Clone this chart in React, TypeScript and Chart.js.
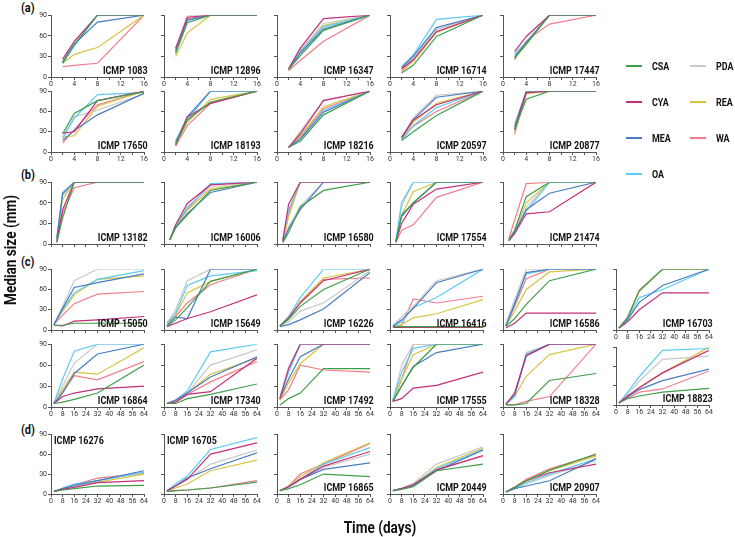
import React, { useEffect, useRef } from "react";
import { Chart, registerables } from "chart.js";

Chart.register(...registerables);

// ---- data ----------------------------------------------------------------
// Culture media, in the order every value matrix below uses.
const MEDIA = ["CSA", "CYA", "MEA", "OA", "PDA", "REA", "WA"];
const MEDIA_COLORS = ["#3f9e4a", "#c2307a", "#4a7cc0", "#5ccbf2", "#c9c9c9", "#d8c443", "#f27c8c"];

// Sampling days per group.
const DAYS_A = [2, 4, 8, 16];
const DAYS_B = [1, 2, 4, 8, 16];
const DAYS_CD = [2, 8, 16, 32, 64];

const SIZE_TICKS = [0, 15, 30, 45, 60, 75, 90];

// Median colony size (mm); one row per medium (CSA, CYA, MEA, OA, PDA, REA, WA).
const icmp1083 = [[20, 47, 90, 90], [26, 52, 90, 90], [22, 48, 80, 90], [20, 45, 90, 90], [22, 50, 90, 90], [20, 33, 43, 90], [15, 17, 20, 90]];
const icmp12896 = [[34, 79, 90, 90], [42, 87, 90, 90], [38, 83, 90, 90], [36, 82, 90, 90], [38, 89, 90, 90], [30, 64, 90, 90], [40, 85, 90, 90]];
const icmp16347 = [[11, 31, 68, 90], [12, 42, 85, 90], [11, 35, 70, 90], [12, 37, 73, 90], [12, 39, 78, 90], [11, 38, 75, 90], [9, 24, 52, 90]];
const icmp16714 = [[6, 17, 59, 90], [12, 25, 66, 90], [14, 30, 72, 90], [15, 32, 84, 90], [13, 28, 69, 90], [10, 23, 65, 90], [8, 24, 66, 90]];
const icmp17447 = [[28, 48, 90, 90], [37, 59, 90, 90], [29, 50, 90, 90], [32, 50, 90, 90], [34, 52, 90, 90], [27, 47, 90, 90], [25, 53, 77, 90]];

const icmp17650 = [[27, 57, 76, 89], [28, 30, 76, 90], [17, 32, 55, 87], [20, 50, 85, 88], [22, 52, 62, 86], [22, 24, 68, 90], [13, 33, 70, 90]];
const icmp18193 = [[12, 47, 74, 90], [10, 52, 72, 90], [14, 52, 90, 90], [17, 47, 90, 90], [15, 50, 90, 90], [11, 44, 78, 90], [9, 39, 72, 90]];
const icmp18216 = [[7, 16, 55, 90], [7, 27, 76, 90], [7, 19, 59, 90], [7, 20, 61, 90], [7, 30, 77, 90], [7, 24, 67, 90], [7, 22, 64, 90]];
const icmp20597 = [[17, 30, 54, 90], [22, 47, 70, 90], [21, 48, 81, 90], [18, 39, 66, 90], [21, 51, 84, 90], [20, 44, 72, 90], [20, 38, 60, 90]];
const icmp20877 = [[35, 78, 90, 90], [33, 88, 90, 90], [38, 90, 90, 90], [31, 89, 90, 90], [42, 90, 90, 90], [28, 86, 90, 90], [26, 87, 90, 90]];

const icmp13182 = [[2, 38, 90, 90, 90], [4, 50, 90, 90, 90], [8, 73, 90, 90, 90], [10, 75, 90, 90, 90], [6, 70, 90, 90, 90], [5, 65, 90, 90, 90], [3, 45, 82, 90, 90]];
const icmp16006 = [[6, 24, 42, 78, 90], [6, 28, 59, 86, 90], [6, 24, 44, 75, 90], [6, 27, 52, 88, 90], [6, 27, 54, 83, 90], [6, 25, 49, 80, 90], [6, 26, 50, 87, 90]];
const icmp16580 = [[2, 17, 54, 78, 90], [5, 58, 90, 90, 90], [4, 22, 50, 90, 90], [8, 50, 90, 90, 90], [5, 25, 55, 90, 90], [3, 40, 90, 90, 90], [4, 45, 90, 90, 90]];
const icmp17554 = [[3, 42, 60, 90, 90], [3, 30, 58, 80, 90], [3, 40, 60, 90, 90], [5, 60, 90, 90, 90], [4, 55, 90, 90, 90], [4, 42, 76, 90, 90], [2, 20, 28, 68, 90]];
const icmp21474 = [[6, 20, 69, 90, 90], [5, 15, 44, 47, 90], [5, 17, 50, 74, 90], [6, 18, 48, 90, 90], [5, 16, 53, 90, 90], [5, 19, 60, 90, 90], [8, 35, 88, 90, 90]];

const icmp15050 = [[7, 7, 10, 10, 10], [7, 6, 13, 15, 20], [8, 32, 63, 70, 83], [8, 30, 55, 75, 88], [8, 35, 73, 90, 90], [8, 28, 52, 75, 80], [8, 22, 39, 53, 57]];
const icmp15649 = [[5, 15, 33, 72, 90], [5, 10, 17, 27, 52], [6, 19, 17, 90, 90], [10, 25, 66, 80, 88], [10, 30, 73, 90, 90], [8, 22, 55, 72, 90], [7, 20, 40, 67, 90]];
const icmp16226 = [[6, 16, 35, 60, 90], [6, 18, 40, 73, 90], [5, 8, 15, 31, 85], [6, 20, 48, 90, 90], [6, 12, 28, 40, 88], [6, 18, 42, 77, 90], [6, 17, 42, 75, 77]];
const icmp16416 = [[5, 5, 5, 5, 5], [4, 4, 4, 4, 4], [6, 15, 32, 70, 90], [5, 12, 33, 48, 90], [6, 20, 35, 73, 90], [4, 8, 18, 24, 45], [4, 7, 46, 40, 50]];
const icmp16586 = [[5, 17, 38, 73, 90], [3, 10, 25, 25, 25], [6, 38, 85, 90, 90], [7, 40, 83, 90, 90], [10, 45, 90, 90, 90], [6, 28, 60, 86, 90], [6, 35, 76, 90, 90]];
const icmp16703 = [[3, 18, 58, 90, 90], [3, 12, 30, 55, 55], [3, 15, 41, 66, 90], [3, 16, 48, 60, 90], [3, 20, 58, 90, 90], [3, 17, 57, 90, 90], [3, 19, 59, 90, 90]];

const icmp16864 = [[5, 7, 11, 20, 60], [5, 15, 20, 26, 30], [5, 20, 48, 76, 90], [5, 40, 80, 90, 90], [5, 30, 63, 90, 90], [5, 25, 50, 47, 85], [5, 22, 45, 39, 65]];
const icmp17340 = [[5, 5, 12, 18, 33], [5, 7, 18, 22, 70], [5, 10, 20, 43, 72], [5, 10, 23, 79, 90], [5, 9, 20, 60, 82], [5, 9, 20, 47, 70], [5, 8, 18, 36, 65]];
const icmp17492 = [[3, 12, 20, 55, 55], [12, 55, 90, 90, 90], [12, 40, 72, 90, 90], [12, 50, 90, 90, 90], [15, 58, 90, 90, 90], [10, 35, 62, 90, 90], [10, 25, 60, 53, 50]];
const icmp17555 = [[8, 30, 57, 90, 90], [8, 12, 27, 31, 50], [8, 30, 58, 78, 90], [10, 50, 84, 90, 90], [10, 60, 90, 90, 90], [8, 40, 75, 90, 90], [8, 40, 90, 90, 90]];
const icmp18328 = [[3, 3, 5, 38, 48], [4, 20, 74, 90, 90], [4, 18, 73, 90, 90], [4, 15, 76, 90, 90], [4, 15, 78, 90, 90], [4, 15, 44, 75, 90], [3, 3, 8, 15, 90]];
const icmp18823 = [[3, 10, 14, 20, 26], [3, 14, 27, 50, 85], [3, 13, 24, 38, 56], [3, 20, 44, 85, 88], [3, 17, 37, 71, 76], [3, 14, 27, 50, 90], [3, 11, 20, 25, 53]];

const icmp16276 = [[4, 6, 8, 12, 13], [4, 7, 10, 17, 20], [4, 8, 13, 20, 35], [4, 9, 15, 20, 33], [4, 7, 11, 20, 32], [4, 7, 11, 18, 30], [4, 7, 14, 24, 31]];
const icmp16705 = [[4, 5, 6, 9, 18], [5, 12, 22, 60, 77], [5, 12, 24, 38, 62], [5, 15, 27, 67, 85], [5, 12, 22, 45, 66], [4, 9, 15, 35, 51], [4, 5, 6, 9, 20]];
const icmp16865 = [[5, 8, 14, 30, 26], [5, 11, 22, 42, 64], [5, 11, 22, 37, 47], [5, 11, 22, 45, 70], [5, 11, 22, 40, 60], [5, 12, 26, 47, 77], [5, 12, 30, 45, 76]];
const icmp20449 = [[5, 7, 11, 35, 45], [5, 8, 14, 36, 58], [5, 8, 13, 35, 66], [5, 8, 14, 38, 67], [5, 9, 16, 45, 71], [5, 8, 14, 40, 69], [5, 8, 14, 37, 57]];
const icmp20907 = [[3, 10, 20, 36, 60], [3, 10, 20, 32, 45], [3, 8, 12, 20, 53], [3, 9, 17, 30, 53], [3, 8, 15, 28, 50], [3, 10, 19, 35, 57], [3, 10, 22, 38, 59]];

// ---- layout ----------------------------------------------------------------
const FONT = "Roboto, 'Liberation Sans', 'DejaVu Sans', sans-serif";
const SQUEEZE = 0.85; // horizontal squeeze giving the narrow lettering
const AXIS_COLOR = "#555";
const COL_X = [51, 164, 277, 390, 503, 616];
const PLOT_W = 93;
// plot top (value 90) and height for each row of panels
const ROWS = {
  a1: { top: 15, h: 62 },
  a2: { top: 91, h: 61 },
  b: { top: 182, h: 62 },
  c1: { top: 269, h: 61 },
  c2: { top: 344, h: 63 },
  d: { top: 434, h: 60 },
};
const ML = 28;
const MR = 7;
const MT = 5;
const MB = 14;

type PanelSpec = {
  name: string;
  values: number[][];
  days: number[];
  row: keyof typeof ROWS;
  col: number;
  xLabels: boolean;
  label?: "br" | "tl";
  top?: number;
  h?: number;
};

const PANELS: PanelSpec[] = [
  { name: "ICMP 1083", values: icmp1083, days: DAYS_A, row: "a1", col: 0, xLabels: true },
  { name: "ICMP 12896", values: icmp12896, days: DAYS_A, row: "a1", col: 1, xLabels: true },
  { name: "ICMP 16347", values: icmp16347, days: DAYS_A, row: "a1", col: 2, xLabels: true },
  { name: "ICMP 16714", values: icmp16714, days: DAYS_A, row: "a1", col: 3, xLabels: true },
  { name: "ICMP 17447", values: icmp17447, days: DAYS_A, row: "a1", col: 4, xLabels: true },
  { name: "ICMP 17650", values: icmp17650, days: DAYS_A, row: "a2", col: 0, xLabels: true },
  { name: "ICMP 18193", values: icmp18193, days: DAYS_A, row: "a2", col: 1, xLabels: true },
  { name: "ICMP 18216", values: icmp18216, days: DAYS_A, row: "a2", col: 2, xLabels: true },
  { name: "ICMP 20597", values: icmp20597, days: DAYS_A, row: "a2", col: 3, xLabels: true },
  { name: "ICMP 20877", values: icmp20877, days: DAYS_A, row: "a2", col: 4, xLabels: true },
  { name: "ICMP 13182", values: icmp13182, days: DAYS_B, row: "b", col: 0, xLabels: false },
  { name: "ICMP 16006", values: icmp16006, days: DAYS_B, row: "b", col: 1, xLabels: false },
  { name: "ICMP 16580", values: icmp16580, days: DAYS_B, row: "b", col: 2, xLabels: false },
  { name: "ICMP 17554", values: icmp17554, days: DAYS_B, row: "b", col: 3, xLabels: false },
  { name: "ICMP 21474", values: icmp21474, days: DAYS_B, row: "b", col: 4, xLabels: false },
  { name: "ICMP 15050", values: icmp15050, days: DAYS_CD, row: "c1", col: 0, xLabels: false },
  { name: "ICMP 15649", values: icmp15649, days: DAYS_CD, row: "c1", col: 1, xLabels: false },
  { name: "ICMP 16226", values: icmp16226, days: DAYS_CD, row: "c1", col: 2, xLabels: false },
  { name: "ICMP 16416", values: icmp16416, days: DAYS_CD, row: "c1", col: 3, xLabels: false },
  { name: "ICMP 16586", values: icmp16586, days: DAYS_CD, row: "c1", col: 4, xLabels: false },
  { name: "ICMP 16703", values: icmp16703, days: DAYS_CD, row: "c1", col: 5, xLabels: true },
  { name: "ICMP 16864", values: icmp16864, days: DAYS_CD, row: "c2", col: 0, xLabels: true },
  { name: "ICMP 17340", values: icmp17340, days: DAYS_CD, row: "c2", col: 1, xLabels: true },
  { name: "ICMP 17492", values: icmp17492, days: DAYS_CD, row: "c2", col: 2, xLabels: true },
  { name: "ICMP 17555", values: icmp17555, days: DAYS_CD, row: "c2", col: 3, xLabels: true },
  { name: "ICMP 18328", values: icmp18328, days: DAYS_CD, row: "c2", col: 4, xLabels: true },
  { name: "ICMP 18823", values: icmp18823, days: DAYS_CD, row: "c2", col: 5, xLabels: true, top: 347, h: 58 },
  { name: "ICMP 16276", values: icmp16276, days: DAYS_CD, row: "d", col: 0, xLabels: true, label: "tl" },
  { name: "ICMP 16705", values: icmp16705, days: DAYS_CD, row: "d", col: 1, xLabels: true, label: "tl" },
  { name: "ICMP 16865", values: icmp16865, days: DAYS_CD, row: "d", col: 2, xLabels: true },
  { name: "ICMP 20449", values: icmp20449, days: DAYS_CD, row: "d", col: 3, xLabels: true },
  { name: "ICMP 20907", values: icmp20907, days: DAYS_CD, row: "d", col: 4, xLabels: true },
];

const GROUP_LABELS = [
  { text: "(a)", x: 21, y: 0 },
  { text: "(b)", x: 21, y: 167 },
  { text: "(c)", x: 21, y: 254 },
  { text: "(d)", x: 21, y: 422 },
];

function Narrow({ children, origin }: { children: React.ReactNode; origin: string }) {
  return (
    <span style={{ display: "inline-block", transform: `scaleX(${SQUEEZE})`, transformOrigin: origin }}>{children}</span>
  );
}

function Panel({ spec }: { spec: PanelSpec }) {
  const ref = useRef<HTMLCanvasElement>(null);
  const rowBox = ROWS[spec.row];
  const top = spec.top ?? rowBox.top;
  const h = spec.h ?? rowBox.h;
  const left = COL_X[spec.col];
  const width = PLOT_W + ML + MR;
  const height = h + MT + MB;
  const long = spec.days[spec.days.length - 1] > 16;
  const showY = spec.col === 0;

  useEffect(() => {
    if (!ref.current) return;
    const tickFont = { family: FONT, size: 7 };
    const chart = new Chart(ref.current, {
      type: "line",
      data: {
        datasets: MEDIA.map((m, i) => ({
          label: m,
          data: spec.days.map((d, j) => ({ x: d, y: spec.values[i][j] })),
          borderColor: MEDIA_COLORS[i],
          backgroundColor: MEDIA_COLORS[i],
          borderWidth: 1.2,
          pointRadius: 0,
          tension: 0,
          fill: false,
        })),
      },
      options: {
        responsive: false,
        animation: false,
        devicePixelRatio: 1,
        layout: { padding: { left: 0, top: MT, right: MR, bottom: 0 } },
        plugins: { legend: { display: false }, tooltip: { enabled: false } },
        scales: {
          x: {
            type: "linear",
            min: 0,
            max: long ? 64 : 16,
            afterFit: (s: any) => {
              s.height = MB;
            },
            border: { display: true, color: AXIS_COLOR, width: 1 },
            grid: { display: true, drawOnChartArea: false, drawTicks: true, tickLength: 3, color: AXIS_COLOR },
            ticks: {
              stepSize: long ? 8 : 2,
              autoSkip: false,
              maxRotation: 0,
              padding: 0,
              font: tickFont,
              color: "#333",
              callback: (v: any) => {
                if (!spec.xLabels) return "";
                if (!long && v % 4 !== 0) return "";
                return String(v);
              },
            },
          },
          y: {
            type: "linear",
            min: 0,
            max: 90,
            afterFit: (s: any) => {
              s.width = ML;
            },
            border: { display: true, color: AXIS_COLOR, width: 1 },
            grid: { display: true, drawOnChartArea: false, drawTicks: true, tickLength: 3, color: AXIS_COLOR },
            afterBuildTicks: (s: any) => {
              s.ticks = SIZE_TICKS.map((v) => ({ value: v }));
            },
            ticks: {
              padding: 1,
              font: tickFont,
              color: "#333",
              callback: (v: any) => (showY ? String(v) : ""),
            },
          },
        },
      },
    });
    return () => chart.destroy();
  }, []);

  const tl = spec.label === "tl";
  const labelStyle: React.CSSProperties = tl
    ? { left: left + 3, top: top + 1 }
    : { right: 735 - (left + PLOT_W + 4), top: top + h - 12 };

  return (
    <>
      <canvas
        ref={ref}
        width={width}
        height={height}
        style={{ position: "absolute", left: left - ML, top: top - MT, width, height }}
      />
      <div
        style={{
          position: "absolute",
          ...labelStyle,
          fontFamily: FONT,
          fontWeight: 700,
          fontSize: 10.5,
          lineHeight: "12px",
          color: "#111",
          whiteSpace: "nowrap",
        }}
      >
        <Narrow origin={tl ? "left center" : "right center"}>{spec.name}</Narrow>
      </div>
    </>
  );
}

function Legend() {
  const col1 = [0, 1, 2, 3];
  const col2 = [4, 5, 6];
  const item = (i: number, x: number, y: number) => (
    <div key={MEDIA[i]} style={{ position: "absolute", left: x, top: y - 7, height: 14, display: "flex", alignItems: "center" }}>
      <div style={{ width: 16, height: 2, background: MEDIA_COLORS[i], marginRight: 10 }} />
      <span style={{ fontFamily: FONT, fontWeight: 700, fontSize: 10.5, color: "#111" }}>
        <Narrow origin="left center">{MEDIA[i]}</Narrow>
      </span>
    </div>
  );
  return (
    <>
      {col1.map((i, k) => item(i, 626, 66 + k * 36))}
      {col2.map((i, k) => item(i, 690, 66 + k * 36))}
    </>
  );
}

export default function App() {
  return (
    <div style={{ position: "fixed", left: 0, top: 0, width: 735, height: 537, background: "#fff", overflow: "hidden" }}>
      {GROUP_LABELS.map((g) => (
        <div
          key={g.text}
          style={{ position: "absolute", left: g.x, top: g.y, fontFamily: FONT, fontWeight: 700, fontSize: 13, color: "#111" }}
        >
          <Narrow origin="left center">{g.text}</Narrow>
        </div>
      ))}
      {PANELS.map((p) => (
        <Panel key={p.name} spec={p} />
      ))}
      <Legend />
      <div
        style={{
          position: "absolute",
          left: 10,
          top: 250,
          transform: `translate(-50%, -50%) rotate(-90deg) scaleX(${SQUEEZE})`,
          fontFamily: FONT,
          fontWeight: 700,
          fontSize: 16,
          color: "#111",
          whiteSpace: "nowrap",
        }}
      >
        Median size (mm)
      </div>
      <div
        style={{
          position: "absolute",
          left: 380,
          top: 527,
          transform: `translate(-50%, -50%) scaleX(${SQUEEZE})`,
          fontFamily: FONT,
          fontWeight: 700,
          fontSize: 16,
          color: "#111",
          whiteSpace: "nowrap",
        }}
      >
        Time (days)
      </div>
    </div>
  );
}
